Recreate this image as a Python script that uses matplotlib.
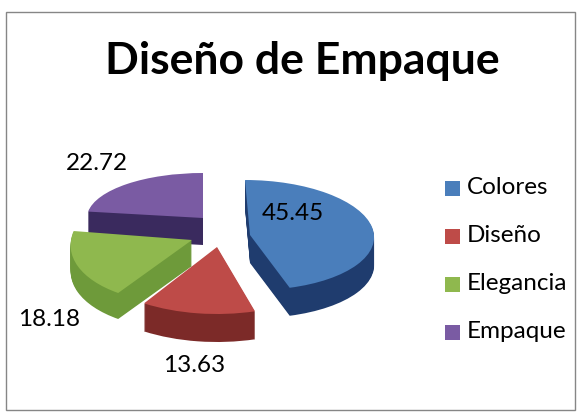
import numpy as np
import matplotlib
matplotlib.use("Agg")
import matplotlib.pyplot as plt
import matplotlib.patches as mpatches
from matplotlib.transforms import Affine2D

categories = ["Colores", "Diseño", "Elegancia", "Empaque"]
values = [45.45, 13.63, 18.18, 22.72]
labels = ["45.45", "13.63", "18.18", "22.72"]
colors = ["#4A7EBB", "#BE4B48", "#8FB84E", "#7A5BA3"]
dark_colors = ["#1F3C6E", "#7C2A28", "#6E9A3A", "#3A2A5E"]

plt.rcParams["font.family"] = ["Lato", "DejaVu Sans"]

fig = plt.figure(figsize=(5.82, 4.18), dpi=100)
fig.patch.set_facecolor("white")

# whole figure in pixels, y going down like the picture
ax = fig.add_axes([0, 0, 1, 1])
ax.set_xlim(0, 582)
ax.set_ylim(418, 0)
ax.axis("off")

ax.add_patch(mpatches.Rectangle((6, 12), 569, 398, fill=False, edgecolor="#868686", linewidth=1))
ax.text(302, 61, "Diseño de Empaque", ha="center", va="center",
        fontsize=32, fontweight="bold", color="black")

# ---------------------- Pie slices: perspective gives each its own ellipse ----------------------
angles = np.cumsum([0] + values) / sum(values) * 360
centers = [(250, 235), (217, 247), (192, 240), (203, 218)]
radii = [(124, 55), (135, 67), (121, 63), (116, 45)]
shears = [5, 0, -10, 0]
depths = [28, 28, 26, 27]
draw_order = [3, 2, 1, 0]

for i in draw_order:
    # clockwise from the top; the y axis is flipped so the angles run forward
    theta1 = angles[i] - 90
    theta2 = angles[i + 1] - 90
    cx, cy = centers[i]
    rx, ry = radii[i]
    for d in range(depths[i], -1, -1):
        tr = Affine2D(np.array([[rx, shears[i], cx], [0, ry, cy + d], [0, 0, 1]])) + ax.transData
        face = colors[i] if d == 0 else dark_colors[i]
        ax.add_patch(mpatches.Wedge((0, 0), 1, theta1, theta2, facecolor=face,
                                    edgecolor="none", transform=tr))

# ---------------------- Value labels ----------------------
label_pos = [(293, 213), (194, 366), (49, 319), (97, 164)]
for text, (x, y) in zip(labels, label_pos):
    ax.text(x, y, text, ha="center", va="center", fontsize=17.5, color="black")

# ---------------------- Legend ----------------------
legend_y = [188, 236, 284, 332]
for name, color, y in zip(categories, colors, legend_y):
    ax.add_patch(mpatches.Rectangle((445, y - 7.5), 15, 15, facecolor=color, edgecolor="none"))
    ax.text(467, y, name, ha="left", va="center", fontsize=17.5, color="black")

fig.savefig("out.png", dpi=100)
